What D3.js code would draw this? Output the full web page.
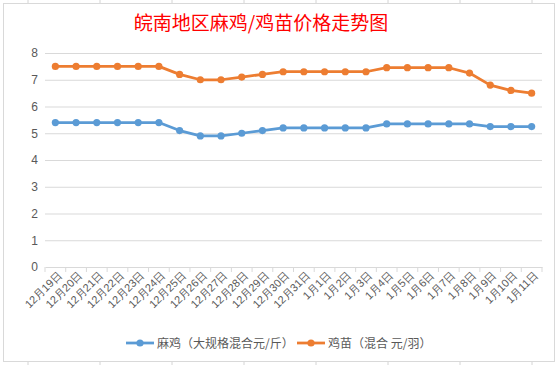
<!DOCTYPE html>
<html>
<head>
<meta charset="utf-8">
<script src="https://cdn.jsdelivr.net/npm/d3@7"></script>
<style>
  html, body { margin: 0; padding: 0; background: #fff; }
  svg { display: block; font-family: "Noto Sans", "Noto Sans CJK SC", sans-serif; }
</style>
</head>
<body>
<div id="chart"></div>
<script>
/* global d3 */

// data
const dates = [
  '12月19日', '12月20日', '12月21日', '12月22日', '12月23日', '12月24日',
  '12月25日', '12月26日', '12月27日', '12月28日', '12月29日', '12月30日',
  '12月31日', '1月1日', '1月2日', '1月3日', '1月4日', '1月5日',
  '1月6日', '1月7日', '1月8日', '1月9日', '1月10日', '1月11日',
];
const majiPrice = [
  5.4, 5.4, 5.4, 5.4, 5.4, 5.4, 5.1, 4.9, 4.9, 5.0, 5.1, 5.2,
  5.2, 5.2, 5.2, 5.2, 5.35, 5.35, 5.35, 5.35, 5.35, 5.25, 5.25, 5.25,
];
const jimiaoPrice = [
  7.5, 7.5, 7.5, 7.5, 7.5, 7.5, 7.2, 7.0, 7.0, 7.1, 7.2, 7.3,
  7.3, 7.3, 7.3, 7.3, 7.45, 7.45, 7.45, 7.45, 7.25, 6.8, 6.6, 6.5,
];
const yTicks = [0, 1, 2, 3, 4, 5, 6, 7, 8];
const seriesNames = ['麻鸡（大规格混合元/斤）', '鸡苗（混合 元/羽）'];
const seriesColors = ['#5B9BD5', '#ED7D31'];

// dimensions
const WIDTH = 559;
const HEIGHT = 365;
const MARGIN_TOP = 53;
const MARGIN_LEFT = 45;
const PLOT_RIGHT = 542;
const PLOT_BOTTOM = 267;

const $svg = d3.select('#chart').append('svg')
  .attr('width', WIDTH)
  .attr('height', HEIGHT);

// spreadsheet cell stubs around the chart
const colStubs = d3.range(28, WIDTH, 72);
$svg.append('g').selectAll('line')
  .data(colStubs)
  .join('line')
  .attr('x1', (d) => d).attr('x2', (d) => d)
  .attr('y1', 0).attr('y2', 3)
  .attr('stroke', '#d4d4d4');
$svg.append('g').selectAll('line')
  .data(colStubs)
  .join('line')
  .attr('x1', (d) => d).attr('x2', (d) => d)
  .attr('y1', 362).attr('y2', HEIGHT)
  .attr('stroke', '#d4d4d4');

// chart frame
$svg.append('rect')
  .attr('x', 3.5).attr('y', 3.5)
  .attr('width', 551).attr('height', 358)
  .attr('fill', '#fff')
  .attr('stroke', '#d9d9d9');

// title
$svg.append('text')
  .attr('x', 261)
  .attr('y', 30)
  .attr('text-anchor', 'middle')
  .style('font-family', '"Noto Sans CJK SC", sans-serif')
  .style('font-size', '19px')
  .style('fill', '#ff0000')
  .text('皖南地区麻鸡/鸡苗价格走势图');

// scales
const scaleX = d3.scaleBand().domain(dates).range([MARGIN_LEFT, PLOT_RIGHT]);
const scaleY = d3.scaleLinear().domain([0, 8]).range([PLOT_BOTTOM, MARGIN_TOP]);
const cx = (d) => scaleX(d) + scaleX.bandwidth() / 2;

// gridlines + y labels
const $yAxis = $svg.append('g')
  .attr('transform', `translate(${MARGIN_LEFT},0)`)
  .call(d3.axisLeft(scaleY).tickValues(yTicks).tickSize(-(PLOT_RIGHT - MARGIN_LEFT)).tickPadding(7));
$yAxis.select('.domain').remove();
$yAxis.selectAll('.tick line').attr('stroke', '#d9d9d9');
$yAxis.selectAll('.tick text')
  .style('font-size', '12px')
  .style('fill', '#595959');
$yAxis.selectAll('.tick').filter((d) => d === 0).select('line').remove();

// x axis
const $xAxis = $svg.append('g')
  .attr('transform', `translate(0,${PLOT_BOTTOM})`)
  .call(d3.axisBottom(scaleX).tickSize(0));
$xAxis.select('.domain').attr('stroke', '#d9d9d9');
$xAxis.selectAll('.tick text')
  .attr('text-anchor', 'end')
  .attr('dy', null)
  .attr('y', 0)
  .attr('transform', 'translate(7,9) rotate(-45)')
  .style('font-size', '11px')
  .style('fill', '#595959');
// band boundary ticks
$xAxis.append('g').selectAll('line')
  .data(d3.range(dates.length + 1))
  .join('line')
  .attr('x1', (i) => MARGIN_LEFT + i * scaleX.step())
  .attr('x2', (i) => MARGIN_LEFT + i * scaleX.step())
  .attr('y1', 0).attr('y2', 5)
  .attr('stroke', '#d9d9d9');

// lines
const allSeries = [majiPrice, jimiaoPrice];
const line = d3.line()
  .x((d, i) => cx(dates[i]))
  .y((d) => scaleY(d));

const $vis = $svg.append('g').attr('class', 'g-vis');
allSeries.forEach((values, s) => {
  $vis.append('path')
    .datum(values)
    .attr('d', line)
    .attr('fill', 'none')
    .attr('stroke', seriesColors[s])
    .attr('stroke-width', 2.75)
    .attr('stroke-linejoin', 'round');
  $vis.append('g').selectAll('circle')
    .data(values)
    .join('circle')
    .attr('cx', (d, i) => cx(dates[i]))
    .attr('cy', (d) => scaleY(d))
    .attr('r', 3.6)
    .attr('fill', seriesColors[s]);
});

// legend
const legendX = [126, 297];
const $legend = $svg.append('g').attr('class', 'g-legend');
seriesNames.forEach((name, s) => {
  const $item = $legend.append('g').attr('transform', `translate(${legendX[s]},343)`);
  $item.append('line')
    .attr('x1', 0).attr('x2', 28)
    .attr('stroke', seriesColors[s])
    .attr('stroke-width', 2.75);
  $item.append('circle').attr('cx', 14).attr('r', 3.6).attr('fill', seriesColors[s]);
  $item.append('text')
    .attr('x', 31)
    .attr('y', 4.5)
    .style('font-family', '"Noto Sans CJK SC", sans-serif')
    .style('font-size', '12px')
    .style('fill', '#595959')
    .text(name);
});
</script>
</body>
</html>
